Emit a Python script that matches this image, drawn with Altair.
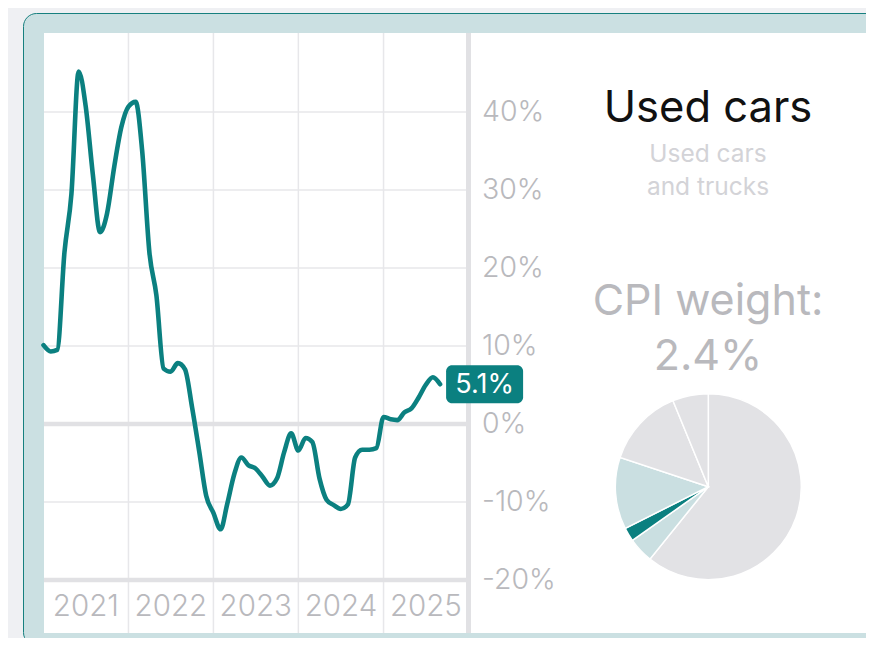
import altair as alt
import pandas as pd

# ---------------- data ----------------
values = [10.1, 9.3, 9.5, 22.0, 29.5, 45.2, 40.8, 32.0, 24.6, 27.0, 33.0, 38.0,
          40.7, 41.3, 35.0, 22.0, 16.5, 7.1, 6.7, 7.8, 7.0, 2.2, -3.5, -9.2,
          -11.4, -13.5, -10.3, -6.4, -4.3, -5.3, -5.7, -6.8, -7.9, -7.0, -3.6, -1.2,
          -3.4, -1.8, -2.3, -7.0, -9.7, -10.4, -10.9, -10.3, -4.3, -3.3, -3.3, -3.1,
          0.9, 0.6, 0.5, 1.5, 2.0, 3.4, 5.0, 6.0, 5.1]
dates = [d.strftime("%Y-%m-%d") for d in pd.date_range("2021-01-01", periods=len(values), freq="MS")]

year_labels = ["2021", "2022", "2023", "2024", "2025"]
year_bounds = ["2022-01-01", "2023-01-01", "2024-01-01", "2025-01-01"]
axis_end = ["2026-01-01"]
y_ticks = [40, 30, 20, 10, 0, -10, -20]
y_thin = [40, 30, 20, 10, -10]
y_thick = [0, -20]

title = "Used cars"
subtitle = ["Used cars", "and trucks"]

pie_labels = ["Services less energy", "New vehicles", "Used cars", "Other core goods", "Food", "Energy"]
pie_weights = [60.8, 4.4, 2.4, 12.5, 13.7, 6.2]
pie_colors = ["#e2e2e5", "#cadfe1", "#0b8080", "#cadfe1", "#e2e2e5", "#e2e2e5"]
highlight = 2

# ---------------- styles ----------------
TEAL = "#0b8080"
FONT = "Inter"
GRID = "#e7e7ea"
THICK = "#e1e1e4"
LABEL = "#b9b9bd"

df = pd.DataFrame({"date": dates, "v": values})
df_last = pd.DataFrame({"date": [dates[-1]], "v": [values[-1]], "txt": [f"{values[-1]:.1f}%"]})
df_ticks = pd.DataFrame({"v": y_ticks, "txt": [f"{t}%" for t in y_ticks]})
df_thin = pd.DataFrame({"v": y_thin})
df_thick = pd.DataFrame({"v": y_thick})
df_bounds = pd.DataFrame({"date": year_bounds})
df_end = pd.DataFrame({"date": axis_end})
df_years = pd.DataFrame({"date": [f"{y}-07-02" for y in year_labels], "txt": year_labels})
df_pie = pd.DataFrame({"label": pie_labels, "w": pie_weights, "color": pie_colors, "idx": list(range(len(pie_labels)))})
dummy = pd.DataFrame({"a": [0]})

xs = alt.Scale(type="utc",
               domain=[alt.DateTime(year=2021, month=1, date=1, utc=True),
                       alt.DateTime(year=2026, month=1, date=1, utc=True)],
               range=[35.5, 460.5])
ys = alt.Scale(domain=[-20, 50], range=[572, 26], nice=False, zero=False)

X = lambda f="date:T": alt.X(f, scale=xs, axis=None)
Y = lambda f="v:Q": alt.Y(f, scale=ys, axis=None)

card = alt.Chart(dummy).mark_rect(fill="#cbe0e2", stroke="#17807f", strokeWidth=1, cornerRadius=13).encode(
    x=alt.value(15.5), x2=alt.value(900), y=alt.value(5.5), y2=alt.value(637.5))
panel = alt.Chart(dummy).mark_rect(fill="white").encode(
    x=alt.value(36), x2=alt.value(900), y=alt.value(25), y2=alt.value(625))

hgrid = alt.Chart(df_thin).mark_rule(color=GRID, strokeWidth=1.5).encode(
    y=Y(), x=alt.value(36), x2=alt.value(460))
vgrid = alt.Chart(df_bounds).mark_rule(color=GRID, strokeWidth=1.5).encode(
    x=X(), y=alt.value(25), y2=alt.value(625))
hthick = alt.Chart(df_thick).mark_rule(color=THICK, strokeWidth=4.5).encode(
    y=Y(), x=alt.value(36), x2=alt.value(460))
axis_line = alt.Chart(df_end).mark_rule(color=THICK, strokeWidth=5).encode(
    x=X(), y=alt.value(25), y2=alt.value(625))

line = alt.Chart(df).mark_line(color=TEAL, strokeWidth=4.6, interpolate="monotone",
                               strokeCap="round", strokeJoin="round").encode(x=X(), y=Y())

badge = alt.Chart(df_last).mark_rect(color=TEAL, cornerRadius=6, xOffset=6, x2Offset=83,
                                     yOffset=-19, y2Offset=19).encode(
    x=X(), x2=alt.X2("date:T"), y=Y(), y2=alt.Y2("v:Q"))
badge_text = alt.Chart(df_last).mark_text(color="white", font=FONT, fontSize=27, align="center",
                                          baseline="middle", dx=44.5, dy=1).encode(
    x=X(), y=Y(), text="txt:N")

ylabels = alt.Chart(df_ticks).mark_text(color=LABEL, font=FONT, fontSize=28.5, fontWeight=300,
                                        align="left", baseline="middle").encode(
    y=Y(), x=alt.value(474), text="txt:N")
xlabels = alt.Chart(df_years).mark_text(color=LABEL, font=FONT, fontSize=29.5, fontWeight=300,
                                        align="center", baseline="middle").encode(
    x=X(), y=alt.value(599), text="txt:N")

t_title = alt.Chart(dummy).mark_text(text=title, font=FONT, fontSize=43.5, color="#111111",
                                     align="center", baseline="alphabetic").encode(
    x=alt.value(700), y=alt.value(114))
t_sub1 = alt.Chart(dummy).mark_text(text=subtitle[0], font=FONT, fontSize=24.5, color="#d3d3d7",
                                    align="center", baseline="alphabetic").encode(
    x=alt.value(700), y=alt.value(154))
t_sub2 = alt.Chart(dummy).mark_text(text=subtitle[1], font=FONT, fontSize=24.5, color="#d3d3d7",
                                    align="center", baseline="alphabetic").encode(
    x=alt.value(700), y=alt.value(187))
t_w1 = alt.Chart(dummy).mark_text(text="CPI weight:", font=FONT, fontSize=43, color=LABEL,
                                  align="center", baseline="alphabetic").encode(
    x=alt.value(700), y=alt.value(307))
t_w2 = alt.Chart(dummy).mark_text(text=f"{pie_weights[highlight]}%", font=FONT, fontSize=43, color=LABEL,
                                  align="center", baseline="alphabetic").encode(
    x=alt.value(700), y=alt.value(362))

pie = alt.Chart(df_pie).mark_arc(radius=93, stroke="white", strokeWidth=1.5).encode(
    theta=alt.Theta("w:Q", stack=True),
    order=alt.Order("idx:Q"),
    color=alt.Color("color:N", scale=None, legend=None),
    x=alt.value(700.3), y=alt.value(478.7))

chart = alt.layer(
    card, panel, hgrid, vgrid, hthick, axis_line, line, badge, badge_text,
    ylabels, xlabels, t_title, t_sub1, t_sub2, t_w1, t_w2, pie
).properties(
    width=858, height=630, padding=0, autosize=alt.AutoSizeParams(type="none"),
    background="#eff0f3"
).configure_view(stroke=None)

chart.save("out.html", embed_options={"renderer": "svg", "actions": False})
